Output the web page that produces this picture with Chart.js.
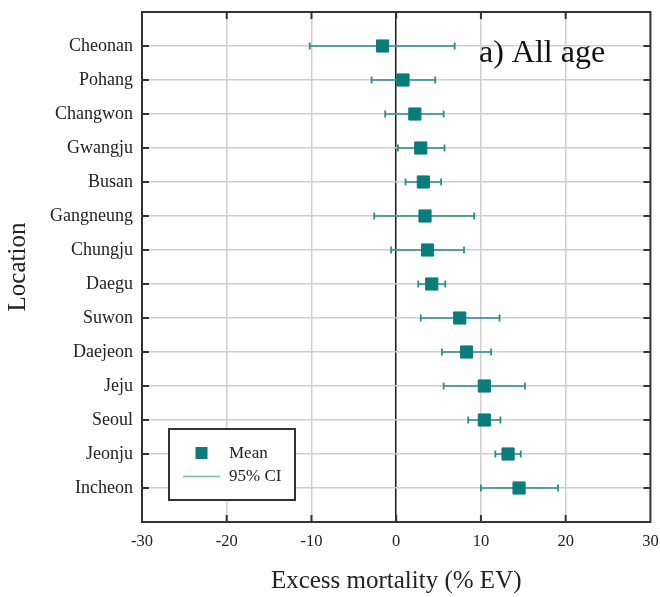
<!DOCTYPE html>
<html>
<head>
<meta charset="utf-8">
<script src="https://cdn.jsdelivr.net/npm/chart.js@4.4.1/dist/chart.umd.min.js"></script>
<style>
  html, body { margin: 0; padding: 0; background: #fff; }
  #wrap { width: 660px; height: 597px; position: relative; }
</style>
</head>
<body>
<div id="wrap"><canvas id="c" width="660" height="597"></canvas></div>
<script>
// ---- data ----
const locations = ["Cheonan","Pohang","Changwon","Gwangju","Busan","Gangneung","Chungju","Daegu","Suwon","Daejeon","Jeju","Seoul","Jeonju","Incheon"];
const meanValues = [-1.6, 0.8, 2.2, 2.9, 3.2, 3.4, 3.7, 4.2, 7.5, 8.3, 10.4, 10.4, 13.2, 14.5];
const ciLower   = [-10.2, -2.9, -1.3, 0.2, 1.1, -2.6, -0.6, 2.6, 2.9, 5.4, 5.6, 8.5, 11.7, 10.0];
const ciUpper   = [6.9, 4.6, 5.6, 5.7, 5.3, 9.2, 8.0, 5.8, 12.2, 11.2, 15.2, 12.3, 14.7, 19.1];
const xTicks = [-30, -20, -10, 0, 10, 20, 30];

const TEAL = '#0b7b7b';
const CI_COLOR = '#2e8b8b';
const FONT = "'Liberation Serif', 'Times New Roman', serif";
const TEXT = '#222';

const ciDatasets = locations.map((loc, i) => ({
  type: 'line',
  label: '95% CI ' + loc,
  data: [{x: ciLower[i], y: i}, {x: ciUpper[i], y: i}],
  borderColor: CI_COLOR,
  borderWidth: 1.5,
  pointStyle: 'line',
  rotation: 90,
  pointRadius: 3.5,
  pointBorderColor: CI_COLOR,
  pointBorderWidth: 1.8,
  pointHoverRadius: 3.5,
  fill: false,
  order: 2
}));

const meanDataset = {
  type: 'scatter',
  label: 'Mean',
  data: locations.map((loc, i) => ({x: meanValues[i], y: i})),
  pointStyle: 'rect',
  pointRadius: 8.6,
  pointBackgroundColor: TEAL,
  pointBorderColor: TEAL,
  pointBorderWidth: 1,
  order: 1
};

const framePlugin = {
  id: 'frame',
  afterDraw(chart) {
    const {ctx, chartArea: a, scales} = chart;
    const xs = scales.x, ys = scales.y;
    ctx.save();
    // legend box
    const lx = 169, ly = 429, lw = 126, lh = 71;
    ctx.fillStyle = '#fff';
    ctx.fillRect(lx, ly, lw, lh);
    ctx.strokeStyle = '#333';
    ctx.lineWidth = 2;
    ctx.strokeRect(lx, ly, lw, lh);
    ctx.fillStyle = TEAL;
    ctx.fillRect(195.5, 447, 12, 12);
    ctx.strokeStyle = '#7ab8b8';
    ctx.lineWidth = 1.5;
    ctx.beginPath(); ctx.moveTo(183, 476.5); ctx.lineTo(220, 476.5); ctx.stroke();
    ctx.fillStyle = TEXT;
    ctx.font = "17px " + FONT;
    ctx.textBaseline = 'middle';
    ctx.textAlign = 'left';
    ctx.fillText('Mean', 229, 454);
    ctx.fillText('95% CI', 229, 477);

    // panel label
    ctx.font = "32px " + FONT;
    ctx.textBaseline = 'alphabetic';
    ctx.fillStyle = '#111';
    ctx.fillText('a) All age', 479, 62);

    // frame
    ctx.strokeStyle = '#333';
    ctx.lineWidth = 2;
    ctx.strokeRect(a.left, a.top, a.right - a.left, a.bottom - a.top);
    // inward ticks
    ctx.beginPath();
    const tl = 7;
    locations.forEach((loc, i) => {
      const y = ys.getPixelForValue(i);
      ctx.moveTo(a.left, y); ctx.lineTo(a.left + tl, y);
      ctx.moveTo(a.right, y); ctx.lineTo(a.right - tl, y);
    });
    xTicks.forEach(v => {
      if (v === xTicks[0] || v === xTicks[xTicks.length - 1]) return;
      const x = xs.getPixelForValue(v);
      ctx.moveTo(x, a.top); ctx.lineTo(x, a.top + tl);
      ctx.moveTo(x, a.bottom); ctx.lineTo(x, a.bottom - tl);
    });
    ctx.stroke();
    ctx.restore();
  }
};

new Chart(document.getElementById('c'), {
  data: { datasets: [meanDataset, ...ciDatasets] },
  options: {
    responsive: false,
    animation: false,
    events: [],
    layout: { padding: { top: 12, right: 8, left: 0, bottom: 0 } },
    plugins: { legend: { display: false }, tooltip: { enabled: false } },
    scales: {
      x: {
        type: 'linear',
        min: -30, max: 30,
        afterBuildTicks(scale) { scale.ticks = xTicks.map(v => ({value: v})); },
        afterFit(scale) {
          scale.height = 75;
          scale.paddingLeft = 0; scale.paddingRight = 0;
        },
        ticks: {
          padding: 10,
          color: TEXT,
          font: { family: FONT, size: 16.5 },
          callback: v => String(v)
        },
        grid: {
          drawTicks: false,
          lineWidth: 1.5,
          color: ctx => {
            const v = ctx.tick ? ctx.tick.value : null;
            if (v === 0) return '#1a1a1a';
            if (v === -30 || v === 30) return 'rgba(0,0,0,0)';
            return '#cfcfcf';
          }
        },
        border: { display: false },
        title: {
          display: true,
          text: 'Excess mortality (% EV)',
          color: TEXT,
          font: { family: FONT, size: 25 },
          padding: { top: 0, bottom: 1 }
        }
      },
      y: {
        type: 'linear',
        min: -1, max: 14,
        reverse: true,
        afterBuildTicks(scale) {
          const t = [];
          for (let i = -1; i <= locations.length; i++) t.push({value: i});
          scale.ticks = t;
        },
        afterFit(scale) {
          scale.width = 142;
          scale.paddingTop = 0; scale.paddingBottom = 0;
        },
        ticks: {
          padding: 9,
          color: TEXT,
          font: { family: FONT, size: 18 },
          autoSkip: false,
          callback: v => (locations[v] !== undefined ? locations[v] : '')
        },
        grid: {
          drawTicks: false,
          lineWidth: 1.5,
          color: ctx => {
            const v = ctx.tick ? ctx.tick.value : null;
            if (v < 0 || v >= locations.length) return 'rgba(0,0,0,0)';
            return '#cfcfcf';
          }
        },
        border: { display: false },
        title: {
          display: true,
          text: 'Location',
          color: TEXT,
          font: { family: FONT, size: 25 },
          padding: { top: 3, bottom: 0 }
        }
      }
    }
  },
  plugins: [framePlugin]
});
</script>
</body>
</html>
